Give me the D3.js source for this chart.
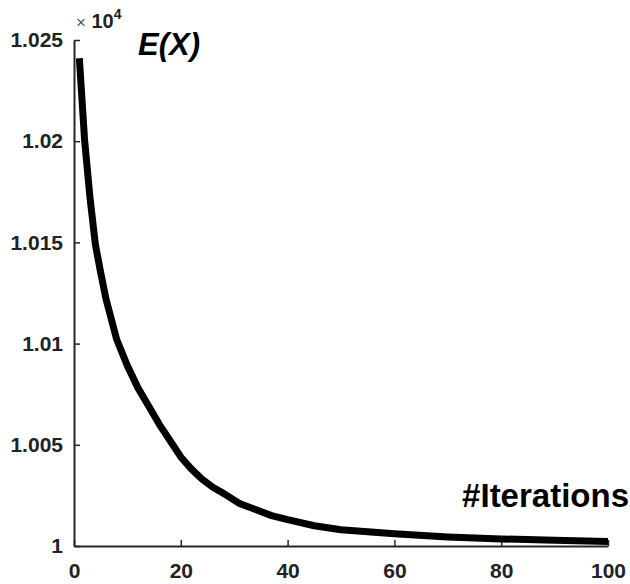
<!DOCTYPE html>
<html>
<head>
<meta charset="utf-8">
<script src="https://cdn.jsdelivr.net/npm/d3@7"></script>
<style>
  body { margin: 0; background: #fff; }
  text { font-family: "Liberation Sans", Arial, sans-serif; }
</style>
</head>
<body>
<svg></svg>
<script>
const svg = d3.select("svg");
const svg_width = 630;
const svg_height = 584;

svg.attr("width", svg_width).attr("height", svg_height);

// energy per iteration (x 10^4)
const iterations = [1, 2, 3, 4, 5, 6, 8, 10, 12, 14, 16, 18, 20, 22, 24, 26, 28, 31, 34, 37, 40, 45, 50, 55, 60, 70, 80, 90, 100];
const energy = [1.0241, 1.0200, 1.0172, 1.0149, 1.0135, 1.0122, 1.0102, 1.0089, 1.0078, 1.0069, 1.0060, 1.0052, 1.0044, 1.0038,
    1.0033, 1.0029, 1.0026, 1.0021, 1.0018, 1.0015, 1.0013, 1.0010, 1.0008, 1.0007, 1.0006, 1.00045, 1.00035, 1.00028, 1.00022];

const x_ticks = [0, 20, 40, 60, 80, 100];
const y_ticks = [1, 1.005, 1.01, 1.015, 1.02, 1.025];
const y_tick_labels = ["1", "1.005", "1.01", "1.015", "1.02", "1.025"];

const pad_left = 74, pad_right = 608, pad_top = 40, pad_bottom = 546;

const x = d3.scaleLinear().domain([0, 100]).range([pad_left, pad_right]);
const y = d3.scaleLinear().domain([1, 1.025]).range([pad_bottom, pad_top]);

const axis_color = "#262626";

const xAxis = svg.append("g")
    .attr("transform", `translate(0, ${pad_bottom})`)
    .call(d3.axisBottom(x).tickValues(x_ticks).tickSizeInner(-6).tickSizeOuter(0).tickPadding(17));

const yAxis = svg.append("g")
    .attr("transform", `translate(${pad_left}, 0)`)
    .call(d3.axisLeft(y).tickValues(y_ticks).tickSizeInner(-6).tickSizeOuter(0).tickPadding(11)
        .tickFormat((d, i) => y_tick_labels[i]));

[xAxis, yAxis].forEach(g => {
    g.select(".domain").attr("stroke", axis_color).attr("stroke-width", 2);
    g.selectAll(".tick line").attr("stroke", axis_color).attr("stroke-width", 1.5);
    g.selectAll(".tick text")
        .attr("fill", "#222")
        .style("font-size", "21px")
        .style("font-weight", "bold")
        .style("font-family", "'Liberation Sans', Arial, sans-serif");
});

const line = d3.line()
    .x((d, i) => x(iterations[i]))
    .y(d => y(d));

svg.append("path")
    .datum(energy)
    .attr("d", line)
    .attr("fill", "none")
    .attr("stroke", "#000")
    .attr("stroke-width", 7)
    .attr("stroke-linejoin", "round");

// exponent
const expo = svg.append("text")
    .attr("x", 76)
    .attr("y", 28)
    .attr("fill", "#222");
expo.append("tspan").text("×").style("font-size", "17px").attr("fill", "#555");
expo.append("tspan").text(" 10").style("font-size", "20px").style("font-weight", "bold");
expo.append("tspan").text("4").attr("dy", -9).style("font-size", "14px").style("font-weight", "bold");

svg.append("text")
    .attr("x", 138)
    .attr("y", 55)
    .text("E(X)")
    .style("font-size", "31px")
    .style("font-weight", "bold")
    .style("font-style", "italic");

svg.append("text")
    .attr("x", 629)
    .attr("y", 507)
    .attr("text-anchor", "end")
    .text("#Iterations")
    .style("font-size", "33px")
    .style("font-weight", "bold");
</script>
</body>
</html>
